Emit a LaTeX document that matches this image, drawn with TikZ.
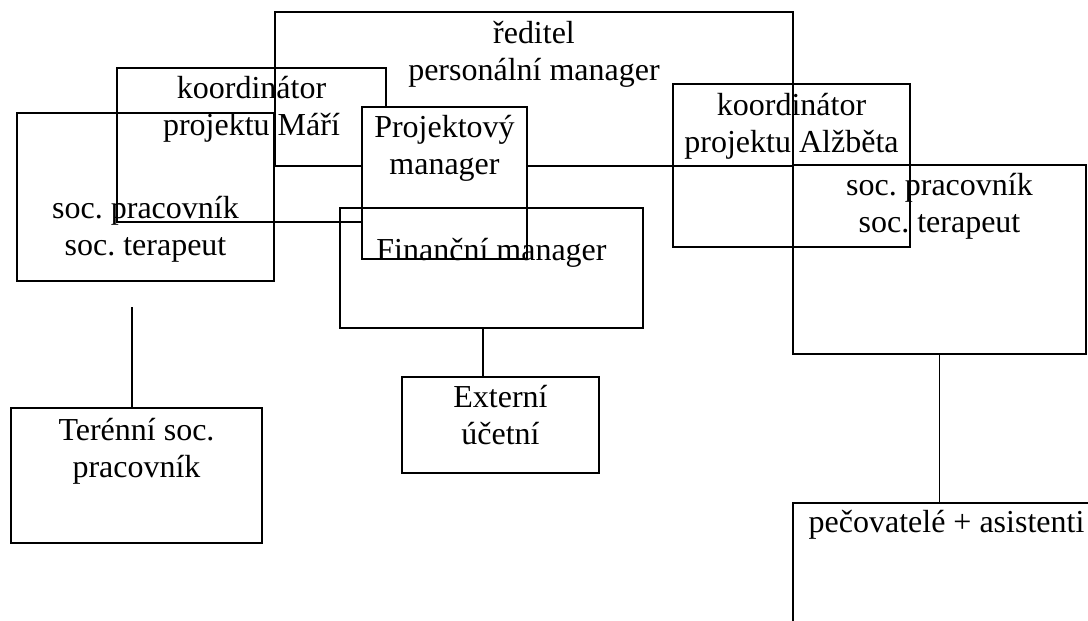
\documentclass[tikz,border=0pt]{standalone}
\usepackage{fontspec}
\setmainfont{Liberation Serif}
\usetikzlibrary{positioning}
\frenchspacing

\newcommand{\twoline}[2]{\begin{tabular}[t]{@{}c@{}}#1\\#2\end{tabular}}

\begin{document}
\begin{tikzpicture}[x=0.5pt, y=-0.5pt,
  box/.style={draw, line width=1pt, anchor=north west, inner sep=0pt, outer sep=0pt},
  txt/.style={inner sep=0pt, anchor=base, font=\fontsize{16}{18.5}\selectfont},
  link/.style={line width=0.65pt}]

\clip (0,0) rectangle (1088,621);

% top: director and the two coordinators
\node (reditel) [box, minimum width=259pt, minimum height=77pt] at (275,12) {};
\node (reditel-t) [txt, below=15.5pt of reditel.north, anchor=base] {\twoline{ředitel}{personální manager}};

\node (mari) [box, minimum width=134.5pt, minimum height=77pt] at (117,68) {};
\node (mari-t) [txt, below=15pt of mari.north, anchor=base] {\twoline{koordinátor}{projektu Máří}};

\node (socL) [box, minimum width=128.5pt, minimum height=84pt] at (17,113) {};
\node (socL-t) [txt, below=52.5pt of socL.north, anchor=base] {\twoline{soc. pracovník}{soc. terapeut}};

\node (proj) [box, fill=white, minimum width=82.5pt, minimum height=76pt] at (362,107) {};
\node (proj-t) [txt, below=15pt of proj.north, anchor=base] {\twoline{Projektový}{manager}};

\node (fin) [box, minimum width=151.5pt, minimum height=60pt] at (340,208) {};
\node (fin-t) [txt, below=26pt of fin.north, anchor=base] {Finanční manager};

\node (alz) [box, minimum width=118.5pt, minimum height=81.5pt] at (673,84) {};
\node (alz-t) [txt, below=15.5pt of alz.north, anchor=base] {\twoline{koordinátor}{projektu Alžběta}};

\node (socR) [box, minimum width=146.5pt, minimum height=94.5pt] at (793,165) {};
\node (socR-t) [txt, below=15pt of socR.north, anchor=base] {\twoline{soc. pracovník}{soc. terapeut}};

% bottom row
\node (teren) [box, minimum width=125.5pt, minimum height=67.5pt] at (11,408) {};
\node (teren-t) [txt, below=16pt of teren.north, anchor=base] {\twoline{Terénní soc.}{pracovník}};

\node (ext) [box, minimum width=98.5pt, minimum height=48pt] at (402,377) {};
\node (ext-t) [txt, below=15pt of ext.north, anchor=base] {\twoline{Externí}{účetní}};

\node (care) [box, minimum width=153.5pt, minimum height=100pt] at (793,503) {};
\node (care-t) [txt, below=14.5pt of care.north, anchor=base] {pečovatelé + asistenti};

% links
\coordinate (gap) at (132,307);
\draw[link] (gap) -- (gap |- teren.north);
\draw[link] ([xshift=-4.25pt]fin.south) -- ([xshift=-4.25pt]fin.south |- ext.north);
\draw[link] (socR.south) -- (socR.south |- care.north);
\end{tikzpicture}
\end{document}
